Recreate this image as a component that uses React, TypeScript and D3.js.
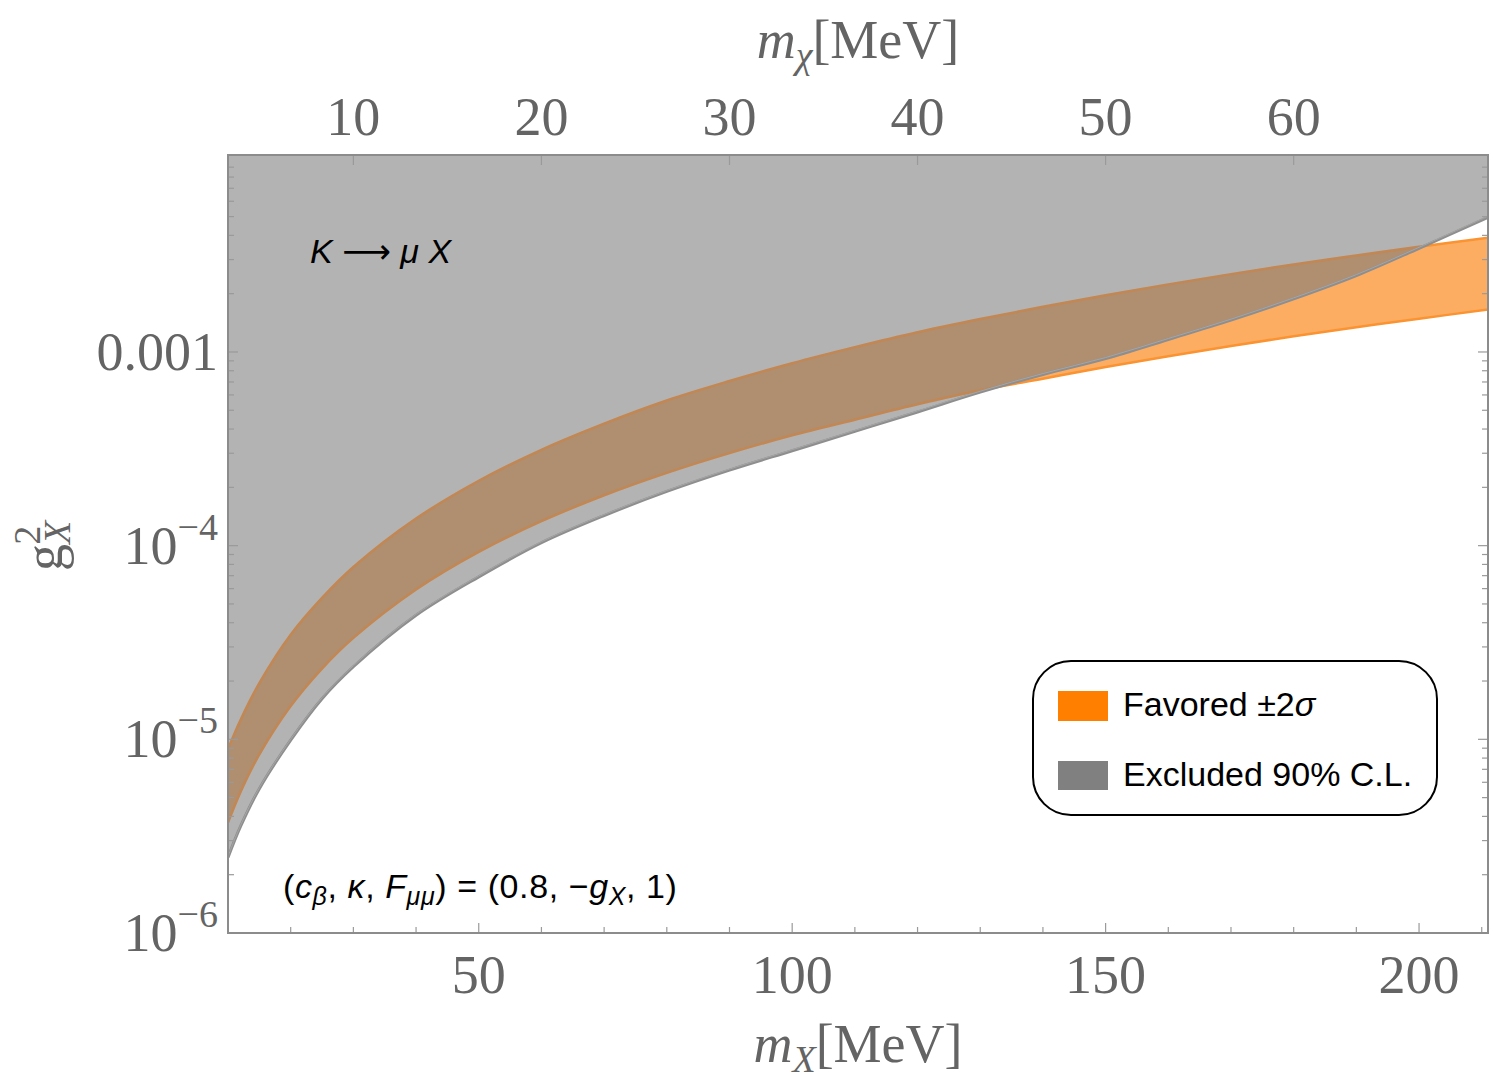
import * as d3 from 'd3';

// m_X grid [MeV] and the three boundaries (g_X^2)
const massX = [10, 12, 15, 20, 25, 30, 40, 50, 60, 70, 80, 90, 100, 110, 120, 130, 140, 150, 160, 170, 180, 190, 200, 211];
const excludedBound = [2.455e-6, 3.55e-6, 5.56e-6, 9.9e-6, 1.62e-5, 2.37e-5, 4.37e-5, 6.9e-5, 1.035e-4, 1.43e-4, 1.905e-4, 2.455e-4, 3.09e-4, 3.89e-4, 4.9e-4, 6.2e-4, 7.65e-4, 9.25e-4, 1.16e-3, 1.46e-3, 1.88e-3, 2.48e-3, 3.43e-3, 4.96e-3];
const favoredLow = [3.72e-6, 5.35e-6, 8.36e-6, 1.486e-5, 2.32e-5, 3.34e-5, 5.94e-5, 9.29e-5, 1.337e-4, 1.82e-4, 2.377e-4, 3.006e-4, 3.715e-4, 4.47e-4, 5.37e-4, 6.34e-4, 7.28e-4, 8.36e-4, 9.51e-4, 1.074e-3, 1.205e-3, 1.343e-3, 1.486e-3, 1.656e-3];
const favoredHigh = [8.91e-6, 1.259e-5, 1.95e-5, 3.467e-5, 5.37e-5, 7.76e-5, 1.38e-4, 2.163e-4, 3.126e-4, 4.266e-4, 5.62e-4, 7.08e-4, 8.75e-4, 1.059e-3, 1.265e-3, 1.479e-3, 1.71e-3, 1.963e-3, 2.234e-3, 2.523e-3, 2.831e-3, 3.148e-3, 3.491e-3, 3.89e-3];

const bottomTicks = [50, 100, 150, 200];
const topTicks = [10, 20, 30, 40, 50, 60]; // m_chi = m_X / 3
const yDecades = [-6, -5, -4, -3];
const yLabels = [
  { base: '10', exp: '−6' },
  { base: '10', exp: '−5' },
  { base: '10', exp: '−4' },
  { base: '0.001', exp: '' },
];

const W = 1500;
const H = 1086;
const left = 228, right = 1488, top = 155, bottom = 933;

const tickColor = '#9a9a9a';
const labelColor = '#646464';
const serif = '"Liberation Serif", "DejaVu Serif", serif';
const sans = '"Liberation Sans", "DejaVu Sans", Arial, sans-serif';

export default function App() {
  const x = d3.scaleLinear().domain([10, 211]).range([left, right]);
  const xTop = d3.scaleLinear().domain([10 / 3, 211 / 3]).range([left, right]);
  const y = d3.scaleLog().domain([1e-6, 0.0104]).range([bottom, top]);

  const rows = massX.map((m, i) => ({
    m,
    ex: excludedBound[i],
    lo: favoredLow[i],
    hi: favoredHigh[i],
  }));
  type Row = (typeof rows)[number];
  const curve = d3.curveCatmullRom.alpha(0.5);

  const exclArea = d3.area<Row>()
    .x(d => x(d.m))
    .y0(() => top - 2)
    .y1(d => y(d.ex))
    .curve(curve);
  const exclLine = d3.line<Row>().x(d => x(d.m)).y(d => y(d.ex)).curve(curve);
  const bandArea = d3.area<Row>()
    .x(d => x(d.m))
    .y0(d => y(d.lo))
    .y1(d => y(d.hi))
    .curve(curve);
  const loLine = d3.line<Row>().x(d => x(d.m)).y(d => y(d.lo)).curve(curve);
  const hiLine = d3.line<Row>().x(d => x(d.m)).y(d => y(d.hi)).curve(curve);

  const minorX = d3.range(10, 211, 10).filter(v => v % 50 !== 0);
  const minorY: number[] = [];
  yDecades.forEach(e => {
    for (let k = 2; k <= 9; k++) minorY.push(k * Math.pow(10, e));
  });

  return (
    <svg width={W} height={H} style={{ position: 'absolute', left: 0, top: 0, background: '#fff' }}>
      <defs>
        <clipPath id="plotClip">
          <rect x={left} y={top} width={right - left} height={bottom - top} />
        </clipPath>
        <clipPath id="exclClip">
          <path d={exclArea(rows) ?? ''} />
        </clipPath>
      </defs>

      <g clipPath="url(#plotClip)">
        {/* favored band, outside the excluded area */}
        <path d={bandArea(rows) ?? ''} fill="#fdad62" />
        <path d={loLine(rows) ?? ''} fill="none" stroke="#fa9330" strokeWidth={2.5} />
        <path d={hiLine(rows) ?? ''} fill="none" stroke="#fa9330" strokeWidth={2.5} />
        {/* excluded region */}
        <path d={exclArea(rows) ?? ''} fill="#b3b3b3" />
        {/* overlap of the two */}
        <g clipPath="url(#exclClip)">
          <path d={bandArea(rows) ?? ''} fill="#b08e70" />
          <path d={loLine(rows) ?? ''} fill="none" stroke="#c28752" strokeWidth={2.5} />
          <path d={hiLine(rows) ?? ''} fill="none" stroke="#c28752" strokeWidth={2.5} />
        </g>
        <path d={exclLine(rows) ?? ''} fill="none" stroke="#8e8e8e" strokeWidth={3} />
        <path d={exclLine(rows) ?? ''} fill="none" stroke="#a6a6a6" strokeWidth={1} transform="translate(0,-1)" />
      </g>

      {/* ticks */}
      <g stroke={tickColor} strokeWidth={1.2}>
        {bottomTicks.map(v => (
          <line key={'bt' + v} x1={x(v)} x2={x(v)} y1={bottom} y2={bottom - 10} />
        ))}
        {minorX.map(v => (
          <line key={'bm' + v} x1={x(v)} x2={x(v)} y1={bottom} y2={bottom - 6} />
        ))}
        {topTicks.map(v => (
          <line key={'tt' + v} x1={xTop(v)} x2={xTop(v)} y1={top} y2={top + 10} />
        ))}
        {yDecades.map(e => (
          <g key={'yd' + e}>
            <line x1={left} x2={left + 10} y1={y(Math.pow(10, e))} y2={y(Math.pow(10, e))} />
            <line x1={right} x2={right - 10} y1={y(Math.pow(10, e))} y2={y(Math.pow(10, e))} />
          </g>
        ))}
        {minorY.map(v => (
          <g key={'ym' + v}>
            <line x1={left} x2={left + 6} y1={y(v)} y2={y(v)} />
            <line x1={right} x2={right - 6} y1={y(v)} y2={y(v)} />
          </g>
        ))}
      </g>

      {/* frame */}
      <rect x={left} y={top} width={right - left} height={bottom - top} fill="none" stroke="#8c8c8c" strokeWidth={2} />

      {/* tick labels */}
      <g fill={labelColor} fontFamily={serif} fontSize={54}>
        {bottomTicks.map(v => (
          <text key={'bl' + v} x={x(v)} y={993} textAnchor="middle">{v}</text>
        ))}
        {topTicks.map(v => (
          <text key={'tl' + v} x={xTop(v)} y={135} textAnchor="middle">{v}</text>
        ))}
        {yDecades.map((e, i) => (
          <text key={'yl' + e} x={218} y={y(Math.pow(10, e)) + 18} textAnchor="end">
            {yLabels[i].base}
            {yLabels[i].exp && (
              <tspan dy={-24} fontSize={38}>{yLabels[i].exp}</tspan>
            )}
          </text>
        ))}
      </g>

      {/* axis titles */}
      <g fill={labelColor} fontFamily={serif} fontSize={54}>
        <text x={858} y={1062} textAnchor="middle">
          <tspan fontStyle="italic">m</tspan>
          <tspan fontStyle="italic" fontSize={38} dy={10}>X</tspan>
          <tspan dy={-10}>[MeV]</tspan>
        </text>
        <text x={858} y={58} textAnchor="middle">
          <tspan fontStyle="italic">m</tspan>
          <tspan fontStyle="italic" fontSize={38} dy={10}>χ</tspan>
          <tspan dy={-10}>[MeV]</tspan>
        </text>
        <text transform="translate(62,571) rotate(-90)" textAnchor="start">
          <tspan>g</tspan>
          <tspan fontStyle="italic" fontSize={38} dy={8}>X</tspan>
          <tspan fontSize={38} dx={-24} dy={-30}>2</tspan>
        </text>
      </g>

      {/* annotations */}
      <text x={310} y={263} fontFamily={sans} fontSize={34} fill="#000">
        <tspan fontStyle="italic">K</tspan>
        <tspan> ⟶ </tspan>
        <tspan fontStyle="italic">μ</tspan>
        <tspan>  </tspan>
        <tspan fontStyle="italic">X</tspan>
      </text>
      <text x={283} y={898} fontFamily={sans} fontSize={34} letterSpacing={0.6} fill="#000">
        <tspan>(</tspan>
        <tspan fontStyle="italic">c</tspan>
        <tspan fontStyle="italic" fontSize={25} dy={7}>β</tspan>
        <tspan dy={-7}>, </tspan>
        <tspan fontStyle="italic">κ</tspan>
        <tspan>, </tspan>
        <tspan fontStyle="italic">F</tspan>
        <tspan fontStyle="italic" fontSize={25} dy={7}>μμ</tspan>
        <tspan dy={-7}>) = (0.8, −</tspan>
        <tspan fontStyle="italic">g</tspan>
        <tspan fontStyle="italic" fontSize={25} dy={7}>X</tspan>
        <tspan dy={-7}>, 1)</tspan>
      </text>

      {/* legend */}
      <rect x={1033} y={661} width={404} height={154} rx={38} ry={38} fill="#fff" stroke="#000" strokeWidth={2} />
      <rect x={1058} y={691} width={50} height={30} fill="#ff8000" />
      <rect x={1058} y={761} width={50} height={29} fill="#808080" />
      <text x={1123} y={716} fontFamily={sans} fontSize={34} fill="#000">
        Favored ±2<tspan fontStyle="italic">σ</tspan>
      </text>
      <text x={1123} y={786} fontFamily={sans} fontSize={34} fill="#000">
        Excluded 90% C.L.
      </text>
    </svg>
  );
}
